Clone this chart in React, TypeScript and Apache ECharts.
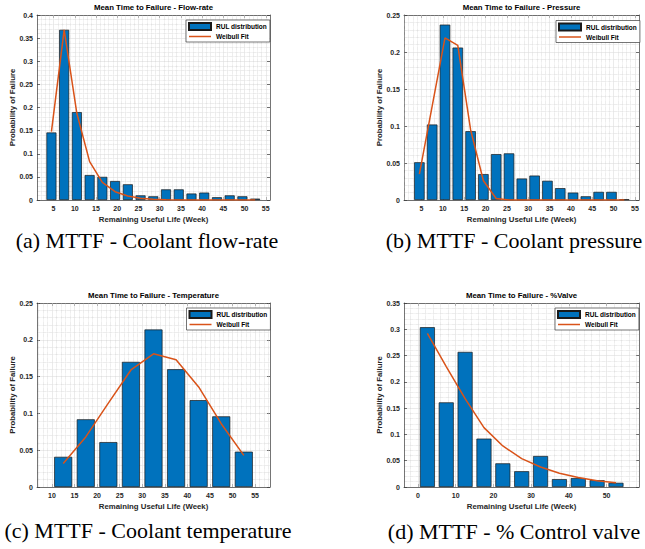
import React, { useEffect, useRef } from 'react';
import * as echarts from 'echarts';

// ---------- data ----------
const weeksAB = [4.5, 7.5, 10.5, 13.5, 16.5, 19.5, 22.5, 25.5, 28.5, 31.5, 34.5, 37.5, 40.5, 43.5, 46.5, 49.5, 52.5];
const flowRUL = [0.146, 0.368, 0.19, 0.054, 0.05, 0.041, 0.034, 0.01, 0.008, 0.023, 0.023, 0.014, 0.016, 0.006, 0.01, 0.008, 0.003];
const flowFit = [0.148, 0.368, 0.187, 0.083, 0.038, 0.018, 0.0086, 0.0036, 0.0014, 0.0005, 0.0002, 0.0001, 0, 0, 0, 0, 0];
const pressureRUL = [0.051, 0.102, 0.237, 0.206, 0.093, 0.035, 0.062, 0.063, 0.029, 0.033, 0.026, 0.016, 0.01, 0.005, 0.011, 0.011, 0.001];
const pressureFit = [0.035, 0.127, 0.219, 0.209, 0.095, 0.026, 0.002, 0, 0, 0, 0, 0, 0, 0, 0, 0, 0];
const weeksC = [12.5, 17.5, 22.5, 27.5, 32.5, 37.5, 42.5, 47.5, 52.5];
const tempRUL = [0.041, 0.092, 0.061, 0.17, 0.214, 0.16, 0.118, 0.096, 0.048];
const tempFit = [0.032, 0.068, 0.114, 0.159, 0.181, 0.173, 0.136, 0.086, 0.043];
const weeksD = [2.5, 7.5, 12.5, 17.5, 22.5, 27.5, 32.5, 37.5, 42.5, 47.5, 52.5];
const valveRUL = [0.304, 0.161, 0.257, 0.092, 0.045, 0.03, 0.059, 0.015, 0.017, 0.013, 0.008];
const valveFit = [0.292, 0.229, 0.168, 0.113, 0.078, 0.054, 0.038, 0.026, 0.018, 0.012, 0.008];
const ticksAB = [5, 10, 15, 20, 25, 30, 35, 40, 45, 50, 55];
const ticksC = [10, 15, 20, 25, 30, 35, 40, 45, 50, 55];
const ticksD = [0, 10, 20, 30, 40, 50];
const titles = [
  'Mean Time to Failure - Flow-rate',
  'Mean Time to Failure - Pressure',
  'Mean Time to Failure - Temperature',
  'Mean Time to Failure - %Valve',
];
const captions = [
  '(a) MTTF - Coolant flow-rate',
  '(b) MTTF - Coolant pressure',
  '(c) MTTF - Coolant temperature',
  '(d) MTTF - % Control valve',
];
const xName = 'Remaining Useful Life (Week)';
const yName = 'Probability of Failure';
const barName = 'RUL distribution';
const fitName = 'Weibull Fit';

// ---------- style ----------
const FONT = '"Liberation Sans", Arial, Helvetica, sans-serif';
const SERIF = '"Liberation Serif", "Times New Roman", serif';
const TXT = '#262626';
const AX = '#3a3a3a';
const MAJ = '#dddddd';
const MIN = '#cdcdcd';
const BAR = '#0072BD';
const FIT = '#D95319';

const panels = [
  { x: weeksAB, bars: flowRUL, fit: flowFit, xMin: 1.1, xMax: 56, ticks: ticksAB, minor: 1, yMax: 0.4, barW: 10,
    grid: { left: 37, top: 15, width: 233, height: 185 }, legend: { left: 186, top: 20 }, cap: { x: 147, y: 240.5 } },
  { x: weeksAB, bars: pressureRUL, fit: pressureFit, xMin: 0.9, xMax: 55.95, ticks: ticksAB, minor: 1, yMax: 0.25, barW: 10.5,
    grid: { left: 404, top: 15, width: 235, height: 185 }, legend: { left: 556, top: 20.5 }, cap: { x: 514, y: 240.5 } },
  { x: weeksC, bars: tempRUL, fit: tempFit, xMin: 6.7, xMax: 58.3, ticks: ticksC, minor: 1, yMax: 0.25, barW: 18,
    grid: { left: 37, top: 303, width: 233, height: 184 }, legend: { left: 186.5, top: 308 }, cap: { x: 148, y: 530.5 } },
  { x: weeksD, bars: valveRUL, fit: valveFit, xMin: -3.7, xMax: 58.6, ticks: ticksD, minor: 2, yMax: 0.35, barW: 15,
    grid: { left: 404, top: 303, width: 235, height: 184 }, legend: { left: 555, top: 308 }, cap: { x: 514, y: 531 } },
];

function gridLines(p: any) {
  const out: any[] = [];
  const start = Math.ceil(p.xMin / p.minor) * p.minor;
  for (let v = start; v < p.xMax; v += p.minor) {
    const isMajor = p.ticks.indexOf(v) >= 0;
    out.push({
      xAxis: v,
      lineStyle: isMajor
        ? { color: MAJ, type: 'solid', width: 0.6 }
        : { color: MIN, type: 'dotted', width: 0.6 },
    });
  }
  return out;
}

function buildOption() {
  const tickStyle = { color: AX, width: 0.7 };
  const labelStyle = { fontSize: 7, fontWeight: 'bold', fontFamily: FONT, color: TXT };
  const xAxis: any[] = [];
  const yAxis: any[] = [];
  const series: any[] = [];
  const legend: any[] = [];
  const graphic: any[] = [];

  panels.forEach((p, i) => {
    xAxis.push({
      type: 'value', gridIndex: i, position: 'bottom', min: p.xMin, max: p.xMax,
      axisLine: { show: true, onZero: false, lineStyle: tickStyle },
      axisTick: { show: true, inside: true, length: 3, customValues: p.ticks, lineStyle: tickStyle },
      axisLabel: { show: true, customValues: p.ticks, margin: 5, ...labelStyle },
      splitLine: { show: false },
    });
    xAxis.push({
      type: 'value', gridIndex: i, position: 'top', min: p.xMin, max: p.xMax,
      axisLine: { show: true, onZero: false, lineStyle: tickStyle },
      axisTick: { show: true, inside: true, length: 3, customValues: p.ticks, lineStyle: tickStyle },
      axisLabel: { show: false },
      splitLine: { show: false },
    });
    yAxis.push({
      type: 'value', gridIndex: i, position: 'left', min: 0, max: p.yMax, interval: 0.05,
      axisLine: { show: true, onZero: false, lineStyle: tickStyle },
      axisTick: { show: true, inside: true, length: 3, lineStyle: tickStyle },
      axisLabel: { show: true, margin: 4, ...labelStyle },
      splitLine: { show: true, lineStyle: { color: MAJ, width: 0.6 } },
      minorTick: { show: false, splitNumber: 5 },
      minorSplitLine: { show: true, lineStyle: { color: MIN, type: 'dotted', width: 0.6 } },
    });
    yAxis.push({
      type: 'value', gridIndex: i, position: 'right', min: 0, max: p.yMax, interval: 0.05,
      axisLine: { show: true, onZero: false, lineStyle: tickStyle },
      axisTick: { show: true, inside: true, length: 3, lineStyle: tickStyle },
      axisLabel: { show: false },
      splitLine: { show: false },
    });

    series.push({
      type: 'line', xAxisIndex: 2 * i, yAxisIndex: 2 * i, data: [], silent: true, z: 1,
      markLine: {
        silent: true, symbol: ['none', 'none'], label: { show: false }, z: 1,
        emphasis: { disabled: true }, animation: false,
        data: gridLines(p),
      },
    });
    series.push({
      type: 'bar', name: barName, xAxisIndex: 2 * i, yAxisIndex: 2 * i, z: 2,
      data: p.x.map((x, k) => [x, p.bars[k]]),
      barWidth: p.barW,
      itemStyle: { color: BAR, borderColor: '#1a1a1a', borderWidth: 0.7 },
      emphasis: { disabled: true },
    });
    series.push({
      type: 'line', name: fitName, xAxisIndex: 2 * i, yAxisIndex: 2 * i, z: 3,
      data: p.x.map((x, k) => [x, p.fit[k]]),
      symbol: 'none', showSymbol: false,
      lineStyle: { color: FIT, width: 1.5 },
      itemStyle: { color: FIT },
      emphasis: { disabled: true },
    });

    legend.push({
      left: p.legend.left, top: p.legend.top, orient: 'vertical',
      padding: [2, 3, 2, 2], itemGap: 2, itemWidth: 22, itemHeight: 7,
      borderColor: AX, borderWidth: 0.7, backgroundColor: '#ffffff',
      selectedMode: false, z: 6,
      textStyle: { fontSize: 6.5, fontWeight: 'bold', fontFamily: FONT, color: '#000', lineHeight: 7 },
      data: [
        { name: barName, icon: 'rect' },
        { name: fitName, itemStyle: { opacity: 0, color: 'transparent', borderWidth: 0 }, lineStyle: { color: FIT, width: 1.5, opacity: 1 } },
      ],
    });

    const cx = p.grid.left + p.grid.width / 2;
    const cy = p.grid.top + p.grid.height / 2;
    const bottom = p.grid.top + p.grid.height;
    graphic.push({
      type: 'text', x: cx, y: p.grid.top - 8, z: 10,
      style: { text: titles[i], fontSize: 7.8, fontWeight: 'bold', fontFamily: FONT, fill: '#000', align: 'center', verticalAlign: 'middle' },
    });
    graphic.push({
      type: 'text', x: cx, y: bottom + 19, z: 10,
      style: { text: xName, fontSize: 7.8, fontWeight: 'bold', fontFamily: FONT, fill: TXT, align: 'center', verticalAlign: 'middle' },
    });
    graphic.push({
      type: 'text', x: p.grid.left - 24.5, y: cy, rotation: Math.PI / 2, z: 10,
      style: { text: yName, fontSize: 7.8, fontWeight: 'bold', fontFamily: FONT, fill: TXT, align: 'center', verticalAlign: 'middle' },
    });
    graphic.push({
      type: 'text', x: p.cap.x, y: p.cap.y, z: 10,
      style: { text: captions[i], fontSize: 22, fontFamily: SERIF, fill: '#000', align: 'center', verticalAlign: 'middle' },
    });
  });

  return {
    animation: false,
    backgroundColor: '#ffffff',
    grid: panels.map((p) => ({ ...p.grid, show: false, containLabel: false })),
    xAxis, yAxis, series, legend, graphic,
  };
}

export default function App() {
  const ref = useRef<HTMLDivElement>(null);
  useEffect(() => {
    if (!ref.current) return;
    const chart = echarts.init(ref.current, null, { renderer: 'svg' });
    chart.setOption(buildOption() as any);
    return () => chart.dispose();
  }, []);
  return (
    <div
      ref={ref}
      style={{ position: 'absolute', left: 0, top: 0, width: 645, height: 549, background: '#fff' }}
    />
  );
}
